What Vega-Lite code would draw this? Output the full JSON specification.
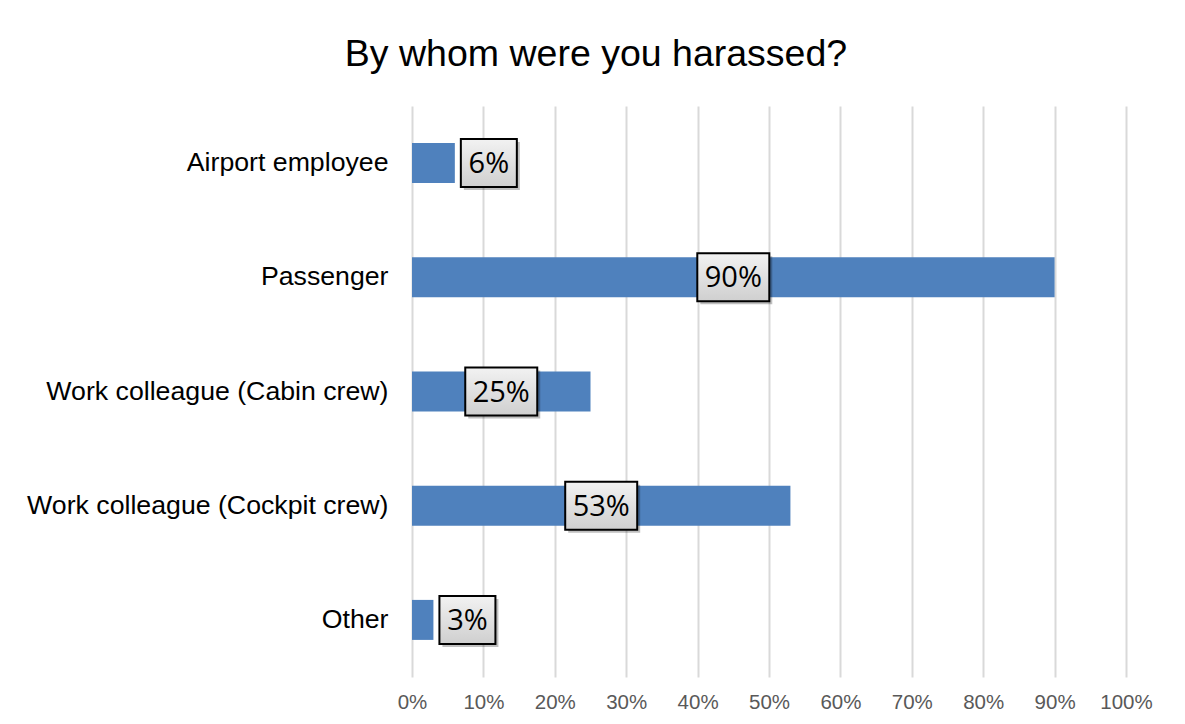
{
  "$schema": "https://vega.github.io/schema/vega-lite/v6.json",
  "autosize": {"type": "none"},
  "width": 714,
  "height": 571,
  "padding": {"left": 412, "top": 106, "right": 59, "bottom": 47},
  "background": "white",
  "title": {
    "text": "By whom were you harassed?",
    "font": "Liberation Sans",
    "fontSize": 37.5,
    "fontWeight": "normal",
    "color": "#000000",
    "anchor": "middle",
    "frame": "group",
    "dx": -173,
    "offset": 33
  },
  "config": {
    "view": {"stroke": null},
    "axis": {"labelFont": "Liberation Sans"}
  },
  "data": {
    "values": [
      {"category": "Airport employee", "value": 0.06, "label": "6%"},
      {"category": "Passenger", "value": 0.90, "label": "90%"},
      {"category": "Work colleague (Cabin crew)", "value": 0.25, "label": "25%"},
      {"category": "Work colleague (Cockpit crew)", "value": 0.53, "label": "53%"},
      {"category": "Other", "value": 0.03, "label": "3%"}
    ]
  },
  "encoding": {
    "y": {
      "field": "category",
      "type": "nominal",
      "sort": null,
      "scale": {"paddingInner": 0, "paddingOuter": 0},
      "axis": {
        "title": null,
        "domain": false,
        "ticks": false,
        "tickSize": 0,
        "labelPadding": 24,
        "labelFontSize": 26.7,
        "labelColor": "#000000",
        "labelLimit": 600
      }
    }
  },
  "resolve": {"scale": {"x": "independent"}, "axis": {"x": "independent"}},
  "layer": [
    {
      "mark": {"type": "bar", "height": 40, "color": "#4f81bd"},
      "encoding": {
        "x": {
          "field": "value",
          "type": "quantitative",
          "scale": {"domain": [0, 1], "nice": false},
          "axis": {
            "title": null,
            "format": "%",
            "values": [0, 0.1, 0.2, 0.3, 0.4, 0.5, 0.6, 0.7, 0.8, 0.9, 1],
            "domain": false,
            "ticks": false,
            "tickSize": 0,
            "labelPadding": 15,
            "labelFontSize": 20.5,
            "labelColor": "#595959",
            "labelFlush": false,
            "labelOverlap": false,
            "grid": true,
            "gridColor": "#d9d9d9",
            "gridWidth": 2
          }
        }
      }
    },
    {
      "transform": [{"filter": "datum.value >= 0.1"}],
      "mark": {"type": "point", "shape": "M-1,-0.667H1V0.667H-1Z", "size": 5184, "filled": true, "color": "#000000", "opacity": 0.25, "xOffset": 3, "yOffset": 3},
      "encoding": {
        "x": {"field": "value", "type": "quantitative", "scale": {"domain": [0, 2], "nice": false}, "axis": null}
      }
    },
    {
      "transform": [{"filter": "datum.value >= 0.1"}],
      "mark": {
        "type": "point", "shape": "M-1,-0.667H1V0.667H-1Z", "size": 5184, "filled": true, "opacity": 1,
        "fill": {"gradient": "linear", "x1": 0, "y1": 0, "x2": 0, "y2": 1, "stops": [{"offset": 0, "color": "#f2f2f2"}, {"offset": 1, "color": "#cfcfcf"}]},
        "stroke": "#000000", "strokeWidth": 2
      },
      "encoding": {
        "x": {"field": "value", "type": "quantitative", "scale": {"domain": [0, 2], "nice": false}, "axis": null}
      }
    },
    {
      "transform": [{"filter": "datum.value >= 0.1"}],
      "mark": {"type": "text", "font": "Open Sans", "fontSize": 29, "color": "#000000", "align": "center", "baseline": "middle", "dy": 1},
      "encoding": {
        "x": {"field": "value", "type": "quantitative", "scale": {"domain": [0, 2], "nice": false}, "axis": null},
        "text": {"field": "label"}
      }
    },
    {
      "transform": [{"filter": "datum.value < 0.1"}],
      "mark": {"type": "point", "shape": "M-1,-0.857H1V0.857H-1Z", "size": 3136, "filled": true, "color": "#000000", "opacity": 0.25, "xOffset": 37, "yOffset": 3},
      "encoding": {
        "x": {"field": "value", "type": "quantitative", "scale": {"domain": [0, 1], "nice": false}, "axis": null}
      }
    },
    {
      "transform": [{"filter": "datum.value < 0.1"}],
      "mark": {
        "type": "point", "shape": "M-1,-0.857H1V0.857H-1Z", "size": 3136, "filled": true, "opacity": 1, "xOffset": 34,
        "fill": {"gradient": "linear", "x1": 0, "y1": 0, "x2": 0, "y2": 1, "stops": [{"offset": 0, "color": "#f2f2f2"}, {"offset": 1, "color": "#cfcfcf"}]},
        "stroke": "#000000", "strokeWidth": 2
      },
      "encoding": {
        "x": {"field": "value", "type": "quantitative", "scale": {"domain": [0, 1], "nice": false}, "axis": null}
      }
    },
    {
      "transform": [{"filter": "datum.value < 0.1"}],
      "mark": {"type": "text", "font": "Open Sans", "fontSize": 29, "color": "#000000", "align": "center", "baseline": "middle", "dy": 1, "xOffset": 34},
      "encoding": {
        "x": {"field": "value", "type": "quantitative", "scale": {"domain": [0, 1], "nice": false}, "axis": null},
        "text": {"field": "label"}
      }
    }
  ]
}
